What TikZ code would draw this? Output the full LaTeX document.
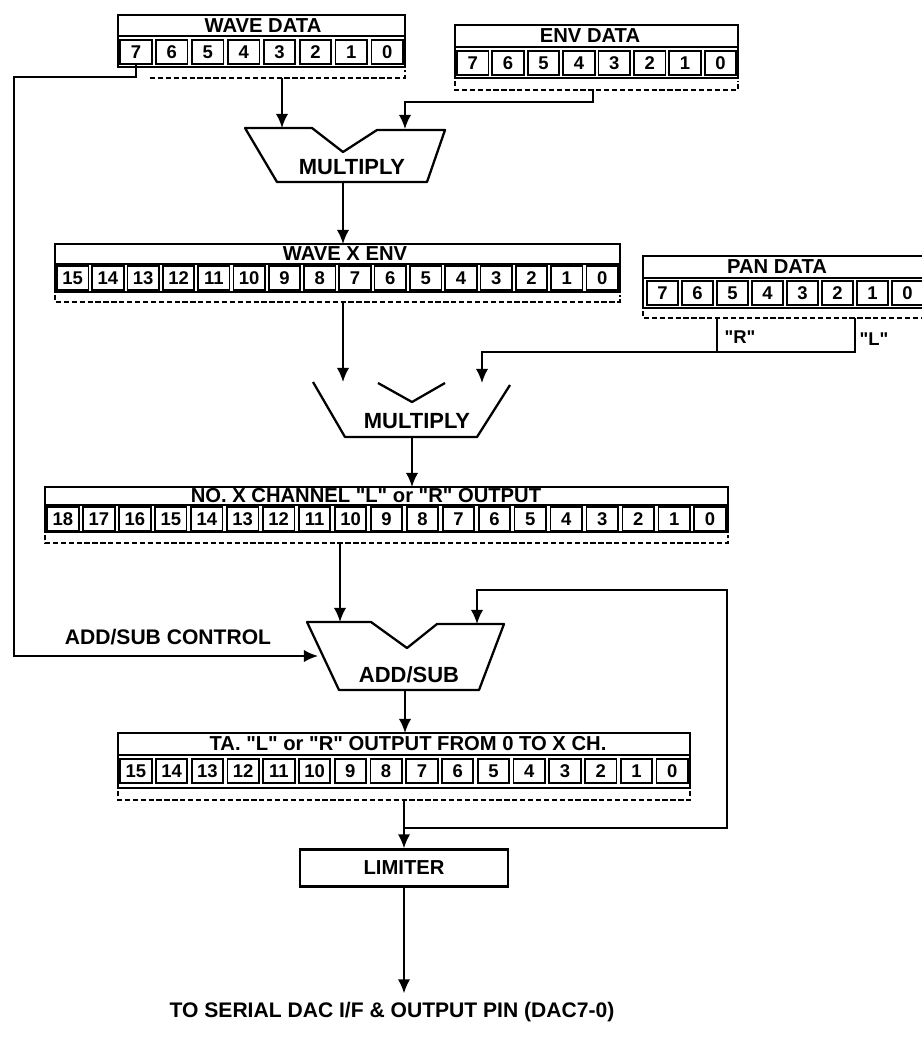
\documentclass[tikz,border=0pt]{standalone}
\usepackage{fontspec}
\setmainfont{Liberation Sans}[Ligatures=TeXOff]
\usetikzlibrary{arrows.meta,positioning}

\tikzset{
  regline/.style={line width=1.3pt},
  bitcell/.style={draw, line width=1pt, inner sep=0pt, minimum width=0.63cm, minimum height=0.48cm, font=\bfseries\fontsize{10.5}{11}\selectfont},
  regtitle/.style={inner sep=0pt, font=\bfseries\fontsize{11.5}{12}\selectfont},
  bracket/.style={line width=0.9pt, dash pattern=on 3pt off 1.5pt},
  wire/.style={line width=1.1pt},
  flow/.style={->, line width=1.1pt},
  unit/.style={line width=1.3pt, line join=round},
  lbl/.style={inner sep=0pt, font=\bfseries\fontsize{12.5}{14}\selectfont},
}

\begin{document}
\begin{tikzpicture}[x=0.02cm, y=-0.02cm, >={Latex[length=8pt,width=7pt]}]
  \useasboundingbox (0,0) rectangle (921,1038);

  % WAVE DATA, bits 7..0
  \draw[regline] (118,15) rectangle (405,67);
  \draw[regline] (118,36) -- (405,36);
  \node[regtitle] (wavet) at (263,26) {WAVE DATA};
  \foreach \b [count=\i from 0] in {7,6,...,0}
    \node[bitcell] (wave\b) at ({118+35.9*(\i+0.5)},52) {\b};
  \draw[bracket] (150,78) -- (405,78) -- (405,70);
  \coordinate (wavedn) at (282,78);

  % ENV DATA, bits 7..0
  \draw[regline] (455,25) rectangle (738,78);
  \draw[regline] (455,47) -- (738,47);
  \node[regtitle] (envt) at (590,36) {ENV DATA};
  \foreach \b [count=\i from 0] in {7,6,...,0}
    \node[bitcell] (env\b) at ({455+35.4*(\i+0.5)},63) {\b};
  \draw[bracket] (455,81) -- (455,90) -- (738,90) -- (738,81);
  \coordinate (envdn) at (593,90);

  % first multiplier
  \draw[unit] (245,128) -- (312,128) -- (343,152) -- (377,130) -- (445,130) -- (427,182) -- (277,182) -- cycle;
  \node[lbl] (mul1) at (352,167) {MULTIPLY};
  \coordinate (m1a) at (282,128);
  \coordinate (m1b) at (405,129);
  \coordinate (m1out) at (343,182);

  % WAVE X ENV, bits 15..0
  \draw[regline] (55,244) rectangle (620,292);
  \draw[regline] (55,264) -- (620,264);
  \node[regtitle] (wxet) at (345,254) {WAVE X ENV};
  \foreach \b [count=\i from 0] in {15,14,...,0}
    \node[bitcell] (wxe\b) at ({55+35.3*(\i+0.5)},278) {\b};
  \draw[bracket] (55,295) -- (55,302) -- (620,302) -- (620,295);
  \coordinate (wxein) at (343,244);
  \coordinate (wxedn) at (343,302);

  % PAN DATA, bits 7..0
  \draw[regline] (643,256) rectangle (935,308);
  \draw[regline] (643,278) -- (935,278);
  \node[regtitle] (pant) at (777,267) {PAN DATA};
  \foreach \b [count=\i from 0] in {7,6,...,0}
    \node[bitcell] (pan\b) at ({645+35*(\i+0.5)},293) {\b};
  \draw[bracket] (643,311) -- (643,318) -- (935,318);
  \coordinate (panR) at (717,318);
  \coordinate (panL) at (855,318);
  \node[lbl, font=\bfseries\fontsize{10.5}{12}\selectfont] (rlbl) at (740,337) {"R"};
  \node[lbl, font=\bfseries\fontsize{10.5}{12}\selectfont] (llbl) at (874,339) {"L"};

  % second multiplier
  \draw[unit] (313,382) -- (345,437) -- (477,437) -- (510,385);
  \draw[unit] (378,383) -- (412,402) -- (445,383);
  \node[lbl] (mul2) at (417,421) {MULTIPLY};
  \coordinate (m2a) at (343,382);
  \coordinate (m2b) at (482,383);
  \coordinate (m2out) at (412,437);

  % NO. X CHANNEL output, bits 18..0
  \draw[regline] (45,487) rectangle (728,532);
  \draw[regline] (45,505) -- (728,505);
  \node[regtitle] (chnt) at (366,496) {NO. X CHANNEL "L" or "R" OUTPUT};
  \foreach \b [count=\i from 0] in {18,17,...,0}
    \node[bitcell] (chn\b) at ({45+35.95*(\i+0.5)},519) {\b};
  \draw[bracket] (45,535) -- (45,543) -- (728,543) -- (728,535);
  \coordinate (chnin) at (412,487);
  \coordinate (chndn) at (340,543);

  % ADD/SUB unit
  \draw[unit] (307,622) -- (371,622) -- (407,648) -- (437,624) -- (504,624) -- (479,690) -- (339,690) -- cycle;
  \node[lbl] (addsub) at (409,675) {ADD/SUB};
  \node[lbl, font=\bfseries\fontsize{12}{14}\selectfont] (ctrl) at (168,637) {ADD/SUB CONTROL};
  \coordinate (asa) at (340,622);
  \coordinate (asb) at (477,624);
  \coordinate (asc) at (318,656);
  \coordinate (asout) at (405,690);

  % TA. output, bits 15..0
  \draw[regline] (118,733) rectangle (690,788);
  \draw[regline] (118,755) -- (690,755);
  \node[regtitle] (tat) at (408,744) {TA. "L" or "R" OUTPUT FROM 0 TO X CH.};
  \foreach \b [count=\i from 0] in {15,14,...,0}
    \node[bitcell] (ta\b) at ({118+35.75*(\i+0.5)},771) {\b};
  \draw[bracket] (118,791) -- (118,800) -- (690,800) -- (690,791);
  \coordinate (tain) at (405,733);
  \coordinate (tadn) at (404,800);
  \coordinate (tajn) at (404,828);

  % limiter and output
  \node[draw, regline, minimum width=4.16cm, minimum height=0.74cm, font=\bfseries\fontsize{11.5}{12}\selectfont] (limit) at (404,868) {LIMITER};
  \node[lbl, font=\bfseries\fontsize{12}{14}\selectfont, outer sep=5pt] (dacout) at (392,1012) {TO SERIAL DAC I/F \& OUTPUT PIN (DAC7-0)};

  % connections
  \draw[flow] (wavedn) -- (m1a);
  \draw[flow] (envdn) -- ++(0,12) -| (m1b);
  \draw[flow] (m1out) -- (wxein);
  \draw[flow] (wxedn) -- (m2a);
  \draw[wire] (panR) -- ++(0,34);
  \draw[flow] (panL) -- ++(0,34) -| (m2b);
  \draw[flow] (m2out) -- (chnin);
  \draw[flow] (chndn) -- (asa);
  \draw[flow] (wave7.south) |- (14,77) |- (asc);
  \draw[flow] (asout) -- (tain);
  \draw[flow] (tadn) -- (limit.north);
  \draw[flow] (tajn) -| (727,590) -| (asb);
  \draw[flow] (limit.south) -- (limit.south |- dacout.north);
\end{tikzpicture}
\end{document}
